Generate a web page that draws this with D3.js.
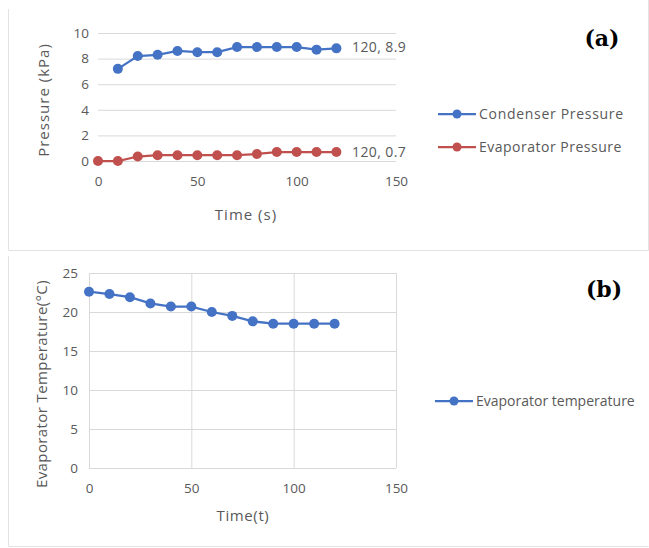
<!DOCTYPE html>
<html>
<head>
<meta charset="utf-8">
<script src="https://cdn.jsdelivr.net/npm/d3@7"></script>
<style>
body { margin: 0; background: #fff; }
text { font-family: "Open Sans", sans-serif; fill: #595959; }
</style>
</head>
<body>
<svg id="chart" width="649" height="548"></svg>
<script>
// panel (a)
var timeA = [0, 10, 20, 30, 40, 50, 60, 70, 80, 90, 100, 110, 120];
var condenser = [null, 7.2, 8.2, 8.3, 8.6, 8.5, 8.5, 8.9, 8.9, 8.9, 8.9, 8.7, 8.8];
var evaporator = [0, 0, 0.35, 0.45, 0.45, 0.45, 0.45, 0.45, 0.55, 0.7, 0.7, 0.7, 0.7];
var labelsA = ["120, 8.9", "120, 0.7"];
var ticksAx = [0, 50, 100, 150];
var ticksAy = [0, 2, 4, 6, 8, 10];
// panel (b)
var timeB = [0, 10, 20, 30, 40, 50, 60, 70, 80, 90, 100, 110, 120];
var evapTemp = [22.6, 22.3, 21.9, 21.1, 20.7, 20.7, 20.0, 19.5, 18.8, 18.5, 18.5, 18.5, 18.5];
var ticksBx = [0, 50, 100, 150];
var ticksBy = [0, 5, 10, 15, 20, 25];

var blue = "#4472C4", red = "#C0504D", grid = "#d9d9d9";
var svg = d3.select("#chart");

// panel frames
svg.append("path").attr("d", "M8.5,9 V250.5 H648.5 V0").attr("fill", "none").attr("stroke", "#e3e3e3");
svg.append("path").attr("d", "M8.5,256 V546.5 H648.5").attr("fill", "none").attr("stroke", "#e3e3e3");

function drawSeries(g, xs, ys, x, y, color) {
  var pts = xs.map(function(d, i) { return [d, ys[i]]; }).filter(function(p) { return p[1] != null; });
  g.append("path").datum(pts)
    .attr("d", d3.line().x(function(p) { return x(p[0]); }).y(function(p) { return y(p[1]); }))
    .attr("fill", "none").attr("stroke", color).attr("stroke-width", 2.25);
  g.selectAll(null).data(pts).enter().append("circle")
    .attr("cx", function(p) { return x(p[0]); }).attr("cy", function(p) { return y(p[1]); })
    .attr("r", 5).attr("fill", color);
}

function legendItem(g, lx, ly, color, label, spacing) {
  g.append("line").attr("x1", lx).attr("x2", lx + 38).attr("y1", ly).attr("y2", ly)
    .attr("stroke", color).attr("stroke-width", 2.25);
  g.append("circle").attr("cx", lx + 19).attr("cy", ly).attr("r", 4.5).attr("fill", color);
  g.append("text").attr("x", lx + 41).attr("y", ly + 5).style("font-size", "14px")
    .style("letter-spacing", spacing + "px").text(label);
}

function styleTicks(a) {
  a.select(".domain").remove();
  a.selectAll("line").attr("stroke", grid);
  a.selectAll("text").style("font-size", "13.5px").style("fill", "#595959");
}

// ---- (a)
var xA = d3.scaleLinear().domain([0, 150]).range([98, 396]);
var yA = d3.scaleLinear().domain([0, 10]).range([161, 33]);
var gA = svg.append("g");
gA.append("g").attr("transform", "translate(98,0)")
  .call(d3.axisLeft(yA).tickValues(ticksAy).tickSize(-(396 - 98)).tickPadding(0))
  .call(styleTicks)
  .call(function(a) { a.selectAll("text").attr("x", -9); });
gA.append("g").attr("transform", "translate(0,161)")
  .call(d3.axisBottom(xA).tickValues(ticksAx).tickSize(0).tickPadding(15))
  .call(styleTicks);
drawSeries(gA, timeA, evaporator, xA, yA, red);
drawSeries(gA, timeA, condenser, xA, yA, blue);
gA.append("text").attr("x", 352).attr("y", yA(8.9) + 5).style("font-size", "14px").style("letter-spacing", "0.4px").text(labelsA[0]);
gA.append("text").attr("x", 352).attr("y", yA(0.7) + 5).style("font-size", "14px").style("letter-spacing", "0.4px").text(labelsA[1]);
gA.append("text").attr("transform", "translate(49,100) rotate(-90)").attr("text-anchor", "middle")
  .style("font-size", "15px").style("letter-spacing", "1px").text("Pressure (kPa)");
gA.append("text").attr("x", 246).attr("y", 220).attr("text-anchor", "middle")
  .style("font-size", "15px").style("letter-spacing", "1px").text("Time (s)");
legendItem(gA, 438, 114, blue, "Condenser Pressure", 0.7);
legendItem(gA, 438, 147, red, "Evaporator Pressure", 0.5);
gA.append("text").attr("x", 602).attr("y", 46).attr("text-anchor", "middle")
  .style("font-family", "'DejaVu Serif', serif").style("font-weight", "bold").style("font-size", "22px")
  .style("fill", "#000").text("(a)");

// ---- (b)
var xB = d3.scaleLinear().domain([0, 150]).range([89, 396]);
var yB = d3.scaleLinear().domain([0, 25]).range([468, 273]);
var gB = svg.append("g");
gB.append("g").attr("transform", "translate(89,0)")
  .call(d3.axisLeft(yB).tickValues(ticksBy).tickSize(-(396 - 89)).tickPadding(0))
  .call(styleTicks)
  .call(function(a) { a.selectAll("text").attr("x", -11); });
gB.append("g").attr("transform", "translate(0,468)")
  .call(d3.axisBottom(xB).tickValues(ticksBx).tickSize(-(468 - 273)).tickPadding(15))
  .call(styleTicks);
drawSeries(gB, timeB, evapTemp, xB, yB, blue);
gB.append("text").attr("transform", "translate(47,384) rotate(-90)").attr("text-anchor", "middle")
  .style("font-size", "15px").style("letter-spacing", "0.4px").text("Evaporator Temperature(°C)");
gB.append("text").attr("x", 243).attr("y", 521).attr("text-anchor", "middle")
  .style("font-size", "15px").style("letter-spacing", "0.6px").text("Time(t)");
legendItem(gB, 435, 401, blue, "Evaporator temperature", 0);
gB.append("text").attr("x", 604).attr("y", 297).attr("text-anchor", "middle")
  .style("font-family", "'DejaVu Serif', serif").style("font-weight", "bold").style("font-size", "22px")
  .style("fill", "#000").text("(b)");
</script>
</body>
</html>
